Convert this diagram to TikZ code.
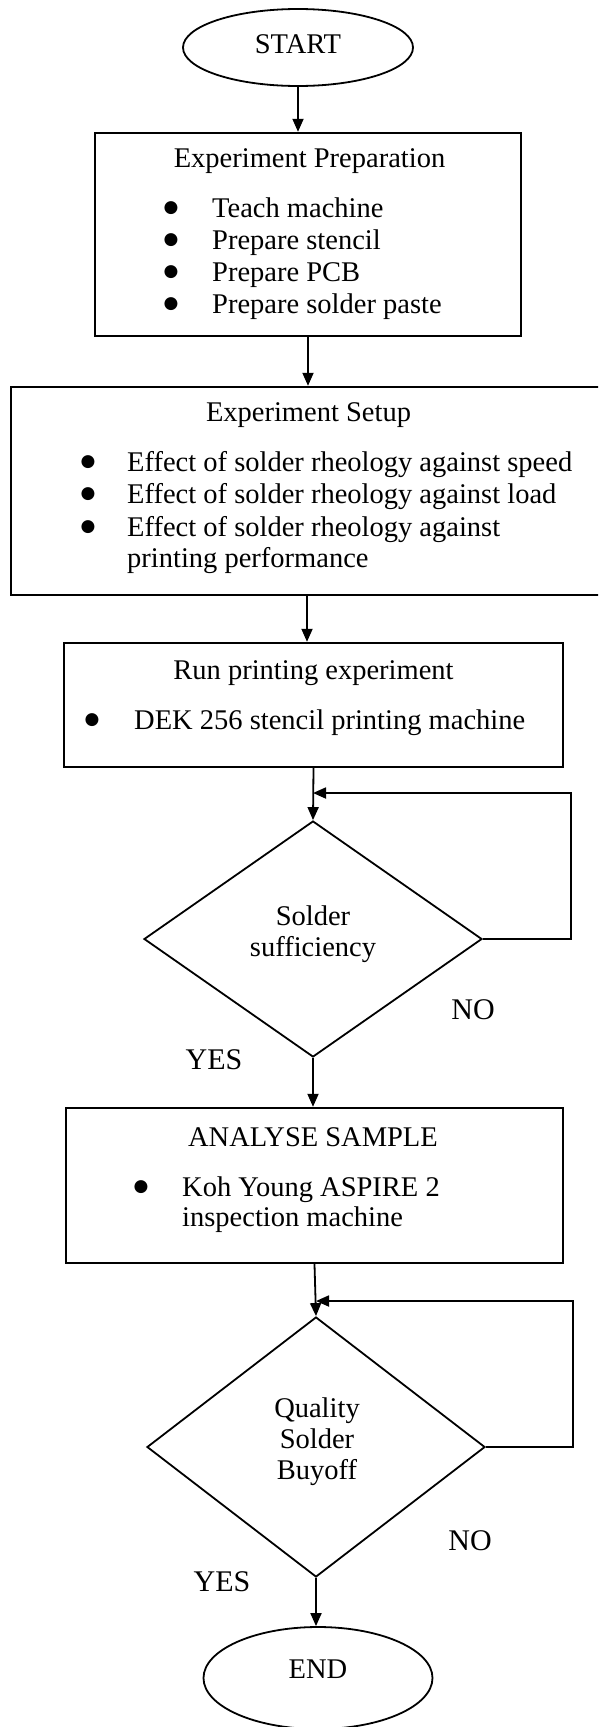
\documentclass[tikz,border=0pt]{standalone}
\usepackage{fontspec}
\setmainfont{Liberation Serif}
\newfontfamily\symfont{DejaVu Sans}
\usetikzlibrary{shapes.geometric,arrows.meta}
\newcommand\mainfs{\fontsize{28.5}{31}\selectfont}
\newcommand\bulfs{\symfont\fontsize{17}{19}\selectfont}
\newcommand\lblfs{\fontsize{30}{32}\selectfont}
\begin{document}
\begin{tikzpicture}[x=1pt,y=-1pt,
  boxnode/.style={draw,line width=2.4pt,rectangle,inner sep=0pt},
  term/.style={draw,line width=1.8pt,ellipse,inner sep=0pt},
  dec/.style={draw,line width=1.8pt,diamond,inner sep=0pt,minimum width=338pt},
  txt/.style={inner sep=0pt,anchor=base,font=\mainfs},
  ltxt/.style={inner sep=0pt,anchor=base west,font=\mainfs},
  bul/.style={inner sep=0pt,anchor=base,font=\bulfs,yshift=5pt},
  yn/.style={inner sep=0pt,anchor=base,font=\lblfs},
  conn/.style={line width=1.8pt,-{Triangle[length=13pt,width=11pt]}}
]
\useasboundingbox (0,0) rectangle (598,1727);
\clip (0,0) rectangle (598,1727);

% START
\node[term,minimum width=230pt,minimum height=77pt] (start) at (298,47.5) {};
\node[txt] (starttxt) at (298,53.5) {START};

% Box 1
\node[boxnode,minimum width=426pt,minimum height=203pt] (box1) at (308,234.5) {};
\node[txt] (t1) at (309.5,167.5) {Experiment Preparation};
\node[bul] (b11) at (171,217.5) {●};
\node[ltxt] (l11) at (212,217.5) {Teach machine};
\node[bul] (b12) at (171,249.5) {●};
\node[ltxt] (l12) at (212,249.5) {Prepare stencil};
\node[bul] (b13) at (171,281.5) {●};
\node[ltxt] (l13) at (212,281.5) {Prepare PCB};
\node[bul] (b14) at (171,313.5) {●};
\node[ltxt] (l14) at (212,313.5) {Prepare solder paste};

% Box 2
\node[boxnode,minimum width=592pt,minimum height=208pt] (box2) at (307,491) {};
\node[txt] (t2) at (308.5,421.5) {Experiment Setup};
\node[bul] (b21) at (88,471.5) {●};
\node[ltxt] (l21) at (127,471.5) {Effect of solder rheology against speed};
\node[bul] (b22) at (88,503.5) {●};
\node[ltxt] (l22) at (127,503.5) {Effect of solder rheology against load};
\node[bul] (b23) at (88,536.5) {●};
\node[ltxt] (l23) at (127,536.5) {Effect of solder rheology against};
\node[ltxt] (l24) at (127,567.5) {printing performance};

% Box 3
\node[boxnode,minimum width=499pt,minimum height=124pt] (box3) at (313.5,705) {};
\node[txt] (t3) at (313.5,679.5) {Run printing experiment};
\node[bul] (b31) at (92,729.5) {●};
\node[ltxt] (l31) at (134,729.5) {DEK 256 stencil printing machine};

% Decision 1
\node[dec,minimum height=236pt] (d1) at (313,939) {};
\node[txt] (d1a) at (313,925.5) {Solder};
\node[txt] (d1b) at (313,956.5) {sufficiency};
\node[yn] (no1) at (473,1019) {NO};
\node[yn] (yes1) at (214,1069) {YES};
\coordinate (j1) at (313,793);
\coordinate (r1) at (571,793);

% Box 4
\node[boxnode,minimum width=497pt,minimum height=155pt] (box4) at (314.5,1185.5) {};
\node[txt] (t4) at (313,1146.5) {ANALYSE SAMPLE};
\node[bul] (b41) at (141,1196.5) {●};
\node[ltxt] (l41) at (182,1196.5) {Koh Young ASPIRE 2};
\node[ltxt] (l42) at (182,1226.5) {inspection machine};

% Decision 2
\node[dec,minimum height=260pt] (d2) at (316,1447) {};
\node[txt] (d2a) at (317,1417.5) {Quality};
\node[txt] (d2b) at (317,1448.5) {Solder};
\node[txt] (d2c) at (317,1479.5) {Buyoff};
\node[yn] (no2) at (470,1550) {NO};
\node[yn] (yes2) at (222,1591) {YES};
\coordinate (j2) at (316,1301);
\coordinate (r2) at (573,1301);

% END
\node[term,minimum width=229pt,minimum height=102pt] (end) at (318,1678) {};
\node[txt] (endtxt) at (318,1678.5) {END};

% connectors
\draw[conn] (start.south) -- (start.south |- box1.north);
\draw[conn] (box1.south) -- (box1.south |- box2.north);
\draw[conn] (box2.south) -- (box2.south |- box3.north);
\draw[conn] (box3.south) -- (d1.north);
\draw[conn] (d1.east) -| (r1) -- (j1);
\draw[conn] (d1.south) -- (d1.south |- box4.north);
\draw[conn] (box4.south) -- (d2.north);
\draw[conn] (d2.east) -| (r2) -- (j2);
\draw[conn] (d2.south) -- (d2.south |- end.north);
\end{tikzpicture}
\end{document}
